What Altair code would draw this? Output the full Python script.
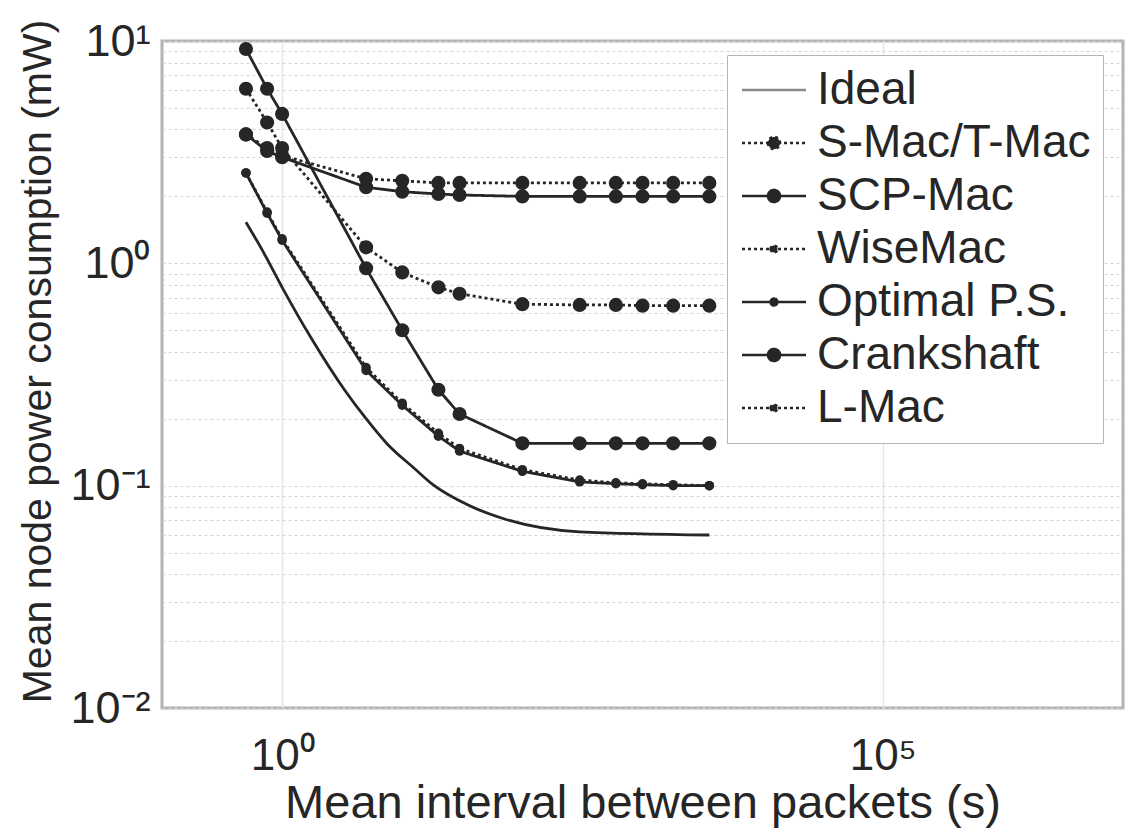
import altair as alt
import pandas as pd

# ---- data ----
series_names = ["Ideal", "S-Mac/T-Mac", "SCP-Mac", "WiseMac", "Optimal P.S.", "Crankshaft", "L-Mac"]

x_common = [0.5, 0.75, 1, 5, 10, 20, 30, 100, 300, 600, 1000, 1800, 3600]

smac = [3.8, 3.3, 3.05, 2.4, 2.35, 2.3, 2.3, 2.3, 2.3, 2.3, 2.3, 2.3, 2.3]
scp = [3.8, 3.2, 3.0, 2.2, 2.1, 2.05, 2.03, 2.0, 2.0, 2.0, 2.0, 2.0, 2.0]
wisemac = [6.1, 4.3, 3.3, 1.18, 0.91, 0.78, 0.73, 0.655, 0.65, 0.65, 0.645, 0.645, 0.645]
optimal = [2.55, 1.68, 1.27, 0.33, 0.23, 0.167, 0.143, 0.116, 0.104, 0.102, 0.101, 0.1, 0.1]
crankshaft = [9.2, 6.1, 4.7, 0.95, 0.5, 0.27, 0.21, 0.155, 0.155, 0.155, 0.155, 0.155, 0.155]
lmac = [2.55, 1.7, 1.29, 0.34, 0.235, 0.172, 0.147, 0.118, 0.106, 0.103, 0.102, 0.101, 0.1]

ideal_x = [0.5, 0.7, 1, 1.75, 3.3, 5, 7.5, 12.5, 18, 35, 70, 300, 3600]
ideal_y = [1.53, 1.12, 0.78, 0.46, 0.27, 0.2, 0.154, 0.12, 0.101, 0.082, 0.071, 0.062, 0.06]

y_grid_values = [0.01, 0.02, 0.03, 0.04, 0.05, 0.06, 0.07, 0.08, 0.09,
                 0.1, 0.2, 0.3, 0.4, 0.5, 0.6, 0.7, 0.8, 0.9,
                 1, 2, 3, 4, 5, 6, 7, 8, 9, 10]
x_tick_values = [1, 100000]

# ---- build table ----
rows = []
for name, vals in [("S-Mac/T-Mac", smac), ("SCP-Mac", scp), ("WiseMac", wisemac),
                   ("Optimal P.S.", optimal), ("Crankshaft", crankshaft), ("L-Mac", lmac)]:
    for xv, yv in zip(x_common, vals):
        rows.append({"series": name, "x": xv, "y": yv})
ideal_rows = [{"series": "Ideal", "x": xv, "y": yv} for xv, yv in zip(ideal_x, ideal_y)]
df_all = pd.concat([pd.DataFrame(ideal_rows), pd.DataFrame(rows)], ignore_index=True)

INK = "#262626"
FONT = "Liberation Sans"

dash_range = [[1, 0], [3, 3], [1, 0], [3, 3], [1, 0], [1, 0], [3, 3]]
color_range = ["#8a8a8a", INK, INK, INK, INK, INK, INK]
dot_big = "M-1.6,0L1.6,0M-0.3,0A0.3,0.3,0,1,0,0.3,0A0.3,0.3,0,1,0,-0.3,0Z"
dot_small = "M-1.6,0L1.6,0M-0.17,0A0.17,0.17,0,1,0,0.17,0A0.17,0.17,0,1,0,-0.17,0Z"
plain = "M-1.6,0L1.6,0"
shape_range = [plain, dot_big, dot_big, dot_small, dot_small, dot_big, dot_small]

x_scale = alt.Scale(type="log", domain=[0.1, 1e7], nice=False)
y_scale = alt.Scale(type="log", domain=[0.01, 10], nice=False)

x_enc = alt.X("x:Q", scale=x_scale, axis=alt.Axis(
    values=x_tick_values,
    labelExpr="datum.value == 1 ? '10⁰' : (datum.value == 100000 ? '10⁵' : '')",
    title="Mean interval between packets (s)",
    grid=True, gridColor="#e6e6e6", gridWidth=1.5,
    ticks=False, domain=False,
    labelFontSize=44, labelPadding=26, labelColor=INK, labelFont=FONT,
    titleFontSize=47, titleFontWeight="normal", titleColor=INK, titleFont=FONT,
    titlePadding=2,
))
y_enc = alt.Y("y:Q", scale=y_scale, axis=alt.Axis(
    values=y_grid_values,
    labelExpr="datum.value == 10 ? '10¹' : (datum.value == 1 ? '10⁰' : (datum.value == 0.1 ? '10⁻¹' : (datum.value == 0.01 ? '10⁻²' : '')))",
    title="Mean node power consumption (mW)",
    grid=True, gridColor="#d4d4d4", gridDash=[3, 3], gridWidth=1.2,
    ticks=False, domain=False,
    labelFontSize=45, labelPadding=12, labelColor=INK, labelFont=FONT,
    titleFontSize=41, titleFontWeight="normal", titleColor=INK, titleFont=FONT,
    titlePadding=10, titleY=320,
))

legend_def = alt.Legend(title=None, orient="none", legendX=565, legendY=14,
                        labelFontSize=46, labelFont=FONT, labelColor=INK,
                        symbolSize=1600, symbolStrokeWidth=2.6,
                        symbolFillColor=INK, symbolOffset=12,
                        rowPadding=7, labelOffset=20,
                        padding=12, fillColor="white",
                        strokeColor="#b5b5b5", labelLimit=400)

dash_scale = alt.Scale(domain=series_names, range=dash_range)
color_scale = alt.Scale(domain=series_names, range=color_range)
shape_scale = alt.Scale(domain=series_names, range=shape_range)

base = alt.Chart(df_all)

lines = base.transform_filter("datum.series != 'Ideal'").mark_line(strokeWidth=2.8, color=INK).encode(
    x=x_enc, y=y_enc,
    strokeDash=alt.StrokeDash("series:N", scale=dash_scale, legend=legend_def),
    detail="series:N",
)

ideal_line = base.transform_filter("datum.series == 'Ideal'").mark_line(
    strokeWidth=2.8, interpolate="monotone", color=INK
).encode(x=x_enc, y=y_enc)

big_pts = base.transform_filter(
    "datum.series == 'S-Mac/T-Mac' || datum.series == 'SCP-Mac' || datum.series == 'Crankshaft' || datum.series == 'WiseMac'"
).mark_point(filled=True, size=200, opacity=1, color=INK).encode(x=x_enc, y=y_enc, detail="series:N")

small_pts = base.transform_filter(
    "datum.series == 'Optimal P.S.' || datum.series == 'L-Mac'"
).mark_point(filled=True, size=90, opacity=1, color=INK).encode(x=x_enc, y=y_enc, detail="series:N")

legend_layer = base.transform_filter("false").mark_point(filled=False, strokeWidth=2.6).encode(
    x=x_enc, y=y_enc,
    shape=alt.Shape("series:N", scale=shape_scale, legend=legend_def),
    strokeDash=alt.StrokeDash("series:N", scale=dash_scale, legend=legend_def),
    color=alt.Color("series:N", scale=color_scale, legend=legend_def),
)

chart = alt.layer(ideal_line, lines, big_pts, small_pts, legend_layer).properties(
    width=961, height=667,
    autosize=alt.AutoSizeParams(type="none"),
    padding={"left": 162, "top": 41, "right": 23, "bottom": 125},
    background="white",
).configure_view(stroke="#b3b3b3", strokeWidth=3)

chart.save("out.html", embed_options={"renderer": "svg", "actions": False})
